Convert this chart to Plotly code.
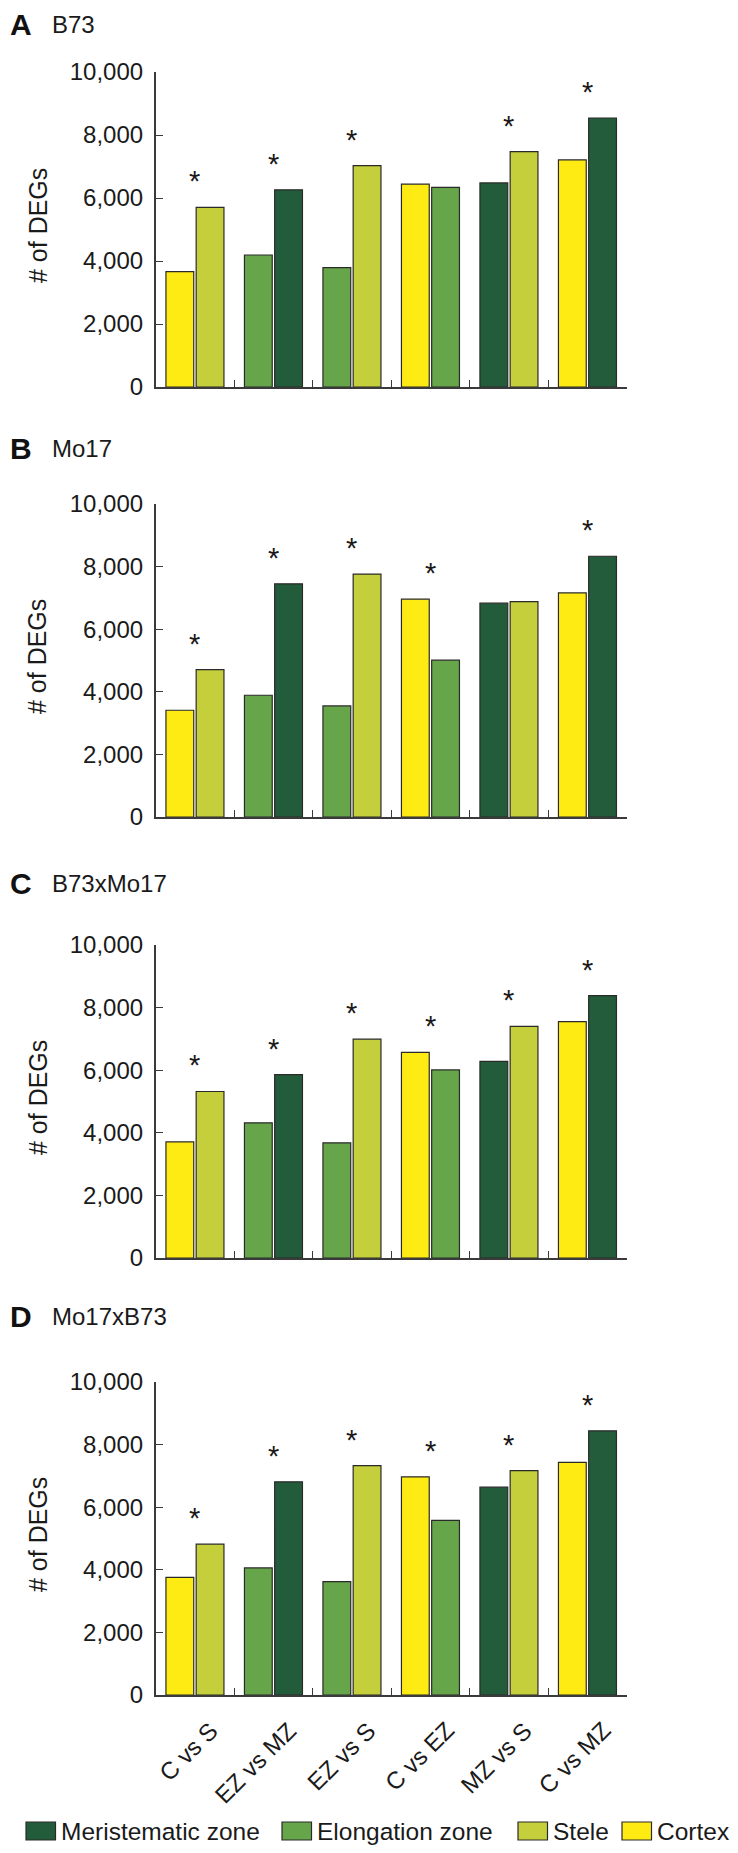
import plotly.graph_objects as go

# ---------------- data ----------------
categories = ["C vs S", "EZ vs MZ", "EZ vs S", "C vs EZ", "MZ vs S", "C vs MZ"]
left_tissue = ["Cortex", "Elongation zone", "Elongation zone", "Cortex", "Meristematic zone", "Cortex"]
right_tissue = ["Stele", "Meristematic zone", "Stele", "Elongation zone", "Stele", "Meristematic zone"]

panel_letters = ["A", "B", "C", "D"]
panel_names = ["B73", "Mo17", "B73xMo17", "Mo17xB73"]

a_left = [3660, 4190, 3790, 6440, 6480, 7210]
a_right = [5700, 6260, 7030, 6340, 7470, 8540]
a_sig = [1, 1, 1, 0, 1, 1]

b_left = [3410, 3890, 3550, 6960, 6830, 7160]
b_right = [4710, 7450, 7760, 5010, 6880, 8330]
b_sig = [1, 1, 1, 1, 0, 1]

c_left = [3710, 4320, 3680, 6570, 6280, 7550]
c_right = [5320, 5860, 6990, 6010, 7400, 8380]
c_sig = [1, 1, 1, 1, 1, 1]

d_left = [3760, 4060, 3620, 6970, 6640, 7430]
d_right = [4820, 6810, 7330, 5580, 7170, 8440]
d_sig = [1, 1, 1, 1, 1, 1]

y_ticks = [0, 2000, 4000, 6000, 8000, 10000]
legend_labels = ["Meristematic zone", "Elongation zone", "Stele", "Cortex"]

# ---------------- style ----------------
colors = {
    "Meristematic zone": "#235C3A",
    "Elongation zone": "#67A54B",
    "Stele": "#C5CE3B",
    "Cortex": "#FFEB14",
}
W, H = 738, 1853
OFF = 8  # page body margin: figure is drawn 8px right/down in the window
FONT = "Liberation Sans, Arial, sans-serif"
AXC = "#3a3a3a"
OUTLINE = "#2a2a2a"
TXT = "#1a1a1a"

# target pixel layout in the window (top of plot / bottom of plot)
panel_px = [(72, 387), (504, 817), (945, 1258), (1382, 1695)]
label_cy = [25, 449, 883, 1316]
x0_px, x1_px = 155.7, 626.7

def fy(px):
    return 1 - (px - OFF) / H

def fx(px):
    return (px - OFF) / W

panels = [
    (a_left, a_right, a_sig),
    (b_left, b_right, b_sig),
    (c_left, c_right, c_sig),
    (d_left, d_right, d_sig),
]

fig = go.Figure()
annotations = []
shapes = []

for i, (lv, rv, sig) in enumerate(panels):
    n = i + 1
    xa = "x" if n == 1 else f"x{n}"
    ya = "y" if n == 1 else f"y{n}"
    fig.add_trace(go.Bar(
        x=categories, y=lv, xaxis=xa, yaxis=ya, showlegend=False,
        marker=dict(color=[colors[t] for t in left_tissue],
                    line=dict(color=OUTLINE, width=1.2)),
        offsetgroup="L",
    ))
    fig.add_trace(go.Bar(
        x=categories, y=rv, xaxis=xa, yaxis=ya, showlegend=False,
        marker=dict(color=[colors[t] for t in right_tissue],
                    line=dict(color=OUTLINE, width=1.2)),
        offsetgroup="R",
    ))
    top, bot = panel_px[i]
    xkey = "xaxis" if n == 1 else f"xaxis{n}"
    ykey = "yaxis" if n == 1 else f"yaxis{n}"
    fig.update_layout(**{
        xkey: dict(
            domain=[fx(x0_px), fx(x1_px)], anchor=ya, type="category",
            showline=True, linecolor=AXC, linewidth=1.5,
            ticks="inside", ticklen=7, tickwidth=1.3, tickcolor=AXC,
            tickson="boundaries", showgrid=False, zeroline=False,
            showticklabels=False, automargin=False,
            range=[-0.5, 5.5],
        ),
        ykey: dict(
            domain=[fy(bot), fy(top)], anchor=xa, range=[0, 10000],
            tickvals=y_ticks, tickformat=",", automargin=False,
            showline=True, linecolor=AXC, linewidth=1.5,
            ticks="inside", ticklen=8, tickwidth=1.3, tickcolor=AXC,
            showgrid=False, zeroline=False, ticklabelstandoff=6,
            tickfont=dict(family=FONT, size=24, color=TXT),
        ),
    })
    # significance asterisks
    for c, l, r, s in zip(categories, lv, rv, sig):
        if s:
            annotations.append(dict(
                x=c, y=max(l, r), xref=xa, yref=ya, text="*", showarrow=False,
                yanchor="middle", yshift=26,
                font=dict(family=FONT, size=29, color=TXT),
            ))
    # y-axis title
    annotations.append(dict(
        x=fx(37.5), y=fy((top + bot) / 2 - 4), xref="paper", yref="paper",
        text="# of DEGs", textangle=-90, showarrow=False,
        xanchor="center", yanchor="middle",
        font=dict(family=FONT, size=25, color=TXT),
    ))
    # panel letter and name
    annotations.append(dict(
        x=fx(OFF), y=fy(label_cy[i]), xref="paper", yref="paper",
        text="<b>" + panel_letters[i] + "</b>", showarrow=False,
        xanchor="left", yanchor="middle",
        font=dict(family=FONT, size=30, color="#111111"),
    ))
    annotations.append(dict(
        x=fx(50), y=fy(label_cy[i]), xref="paper", yref="paper",
        text=panel_names[i], showarrow=False,
        xanchor="left", yanchor="middle",
        font=dict(family=FONT, size=24, color=TXT),
    ))

# rotated category labels under the bottom panel
for c in categories:
    annotations.append(dict(
        x=c, y=0, xref="x4", yref="y4", text=c, textangle=-45, showarrow=False,
        xanchor="right", yanchor="top", xshift=31, yshift=-19,
        font=dict(family=FONT, size=24, color=TXT),
    ))

# manual legend (wide swatches as in the reference)
leg_cy = 1831
sw_left = [26, 282, 518, 622]
sw_w, sw_h = 29.5, 18
for lab, sx in zip(legend_labels, sw_left):
    shapes.append(dict(
        type="rect", xref="paper", yref="paper",
        x0=fx(sx), x1=fx(sx + sw_w), y0=fy(leg_cy + sw_h / 2), y1=fy(leg_cy - sw_h / 2),
        fillcolor=colors[lab], line=dict(color=OUTLINE, width=1.2),
    ))
    annotations.append(dict(
        x=fx(sx + sw_w + 3), y=fy(leg_cy), xref="paper", yref="paper",
        text=lab, showarrow=False, xanchor="left", yanchor="middle",
        font=dict(family=FONT, size=24.5, color=TXT),
    ))

fig.update_layout(
    width=W, height=H,
    margin=dict(l=0, r=0, t=0, b=0, pad=0, autoexpand=False),
    paper_bgcolor="white", plot_bgcolor="white",
    barmode="group", bargap=0.23, bargroupgap=0.08,
    annotations=annotations, shapes=shapes,
    showlegend=False,
    font=dict(family=FONT),
)

fig.write_html("out.html")
